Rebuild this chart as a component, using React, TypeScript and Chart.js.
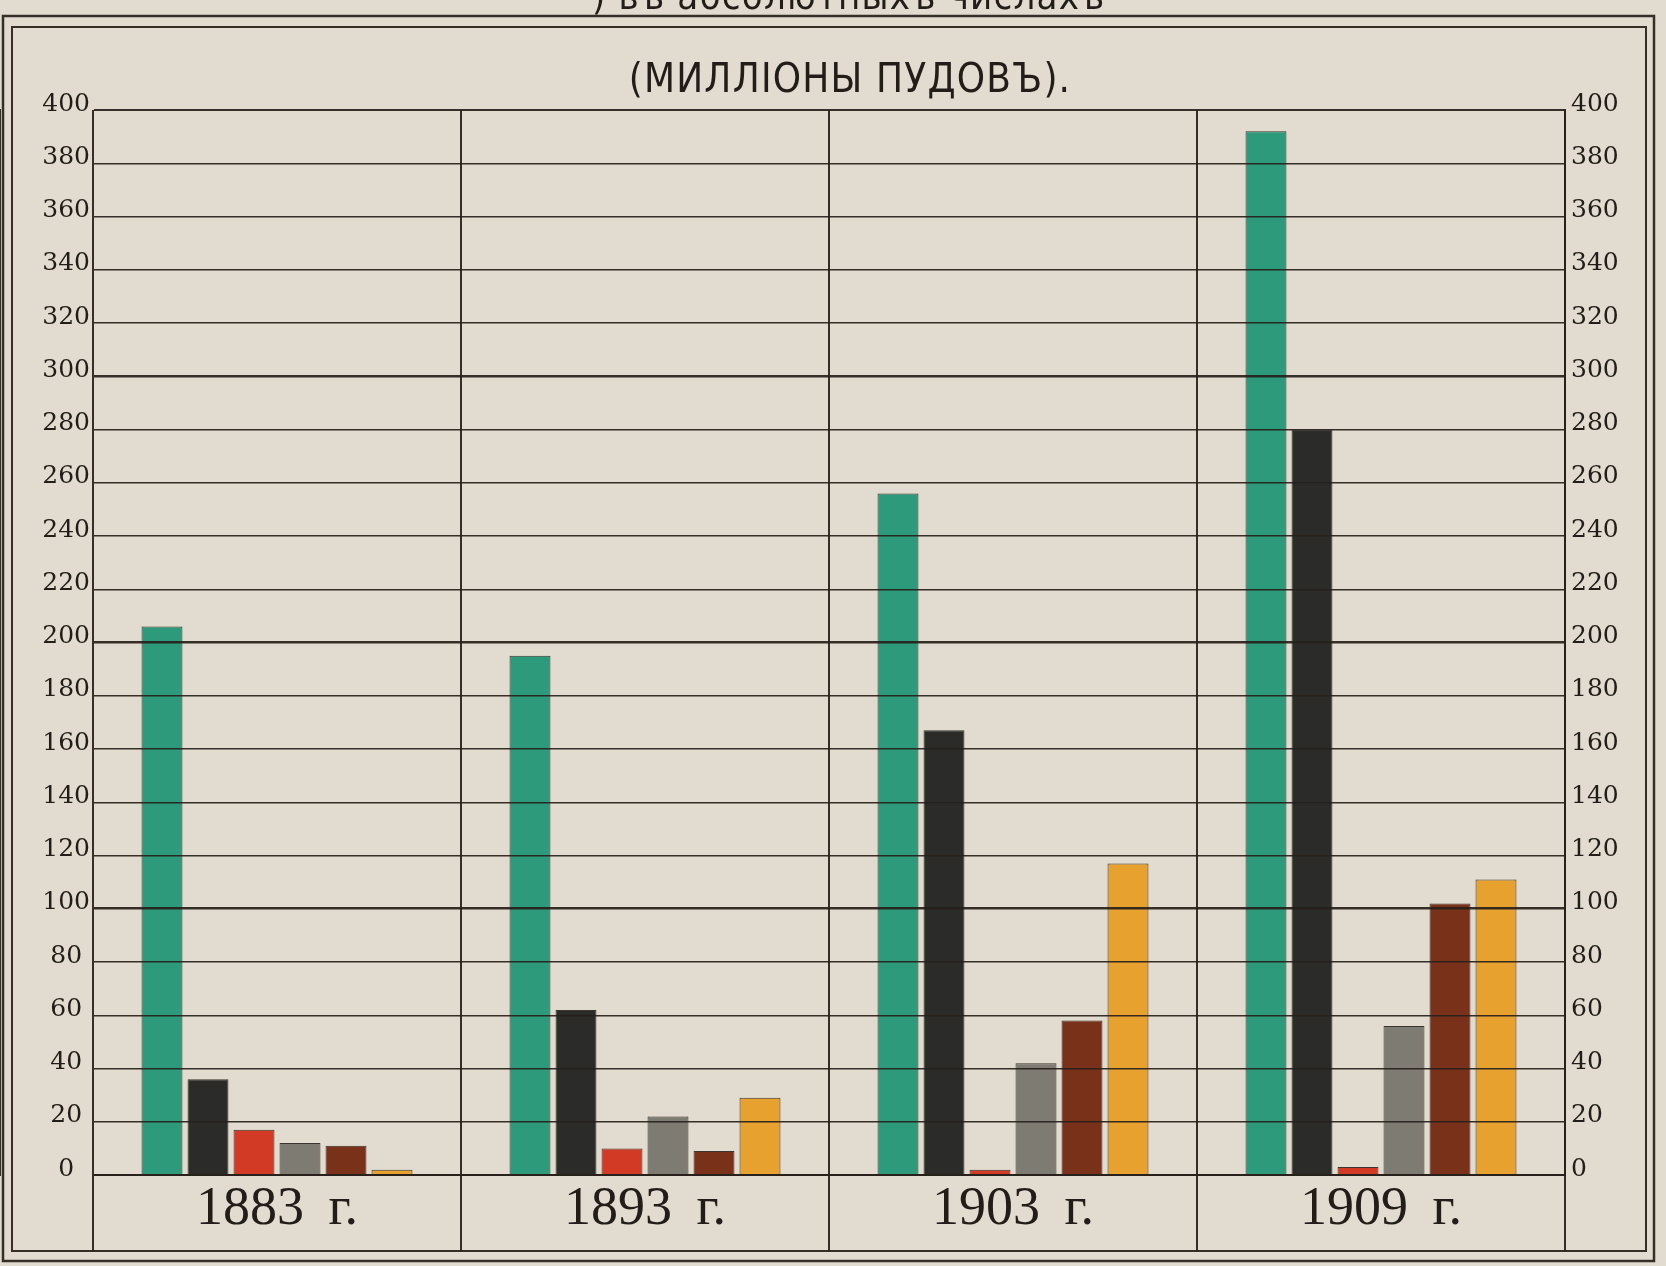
import React, { useEffect, useRef } from "react";
import { Chart, registerables } from "chart.js";

Chart.register(...registerables);

// ---- data ----
const years: string[] = ["1883 \u2009г.", "1893 \u2009г.", "1903 \u2009г.", "1909 \u2009г."];
const seriesGreen: number[] = [206, 195, 256, 392];
const seriesBlack: number[] = [36, 62, 167, 280];
const seriesRed: number[] = [17, 10, 2, 3];
const seriesGray: number[] = [12, 22, 42, 56];
const seriesBrown: number[] = [11, 9, 58, 102];
const seriesOrange: number[] = [2, 29, 117, 111];
const yTicksMin = 0;
const yTicksMax = 400;
const yTickStep = 20;
const heavyGridValues: number[] = [100, 200, 300];
const titleText = "(МИЛЛІОНЫ ПУДОВЪ).";
const topCutText = ") въ абсолютныхъ числахъ";

// ---- styles ----
const W = 1666;
const H = 1266;
const PAPER = "#e1dccf";
const INK = "rgba(38,32,26,0.92)";
const TEXT = "#221d18";
const PLOT_LEFT = 93;
const PLOT_RIGHT = 1565;
const PLOT_TOP = 110;
const PLOT_BOTTOM = 1175;
const ROW_BOTTOM = 1251;

const framePlugin = {
  id: "paperFrame",
  beforeDraw(chart: any) {
    const ctx = chart.ctx;
    ctx.save();
    ctx.fillStyle = PAPER;
    ctx.fillRect(0, 0, W, H);
    ctx.restore();
  },
  afterDraw(chart: any) {
    const ctx = chart.ctx;
    ctx.save();
    ctx.strokeStyle = INK;
    // inner frame
    ctx.lineWidth = 2;
    ctx.strokeRect(12, 27, 1646 - 12, ROW_BOTTOM - 27);
    // outer frame
    ctx.lineWidth = 2.5;
    ctx.strokeRect(3, 16, 1654 - 3, 1261 - 16);
    // title
    ctx.fillStyle = TEXT;
    ctx.textBaseline = "alphabetic";
    ctx.textAlign = "center";
    ctx.font = '40px "Liberation Sans Narrow", "DejaVu Sans Condensed", sans-serif';
    try { (ctx as any).letterSpacing = "1.2px"; } catch (e) {}
    ctx.fillText(titleText, 850, 92);
    // top cut-off caption
    ctx.textAlign = "left";
    ctx.font = '38px "Liberation Sans Narrow", "DejaVu Sans Condensed", sans-serif';
    try { (ctx as any).letterSpacing = "1.2px"; } catch (e) {}
    ctx.fillText(topCutText, 592, 9);
    try { (ctx as any).letterSpacing = "0px"; } catch (e) {}
    ctx.restore();
  },
};

export default function App() {
  const canvasRef = useRef<HTMLCanvasElement | null>(null);

  useEffect(() => {
    const canvas = canvasRef.current;
    if (!canvas) return;
    const mk = (label: string, data: number[], color: string) => ({
      label,
      data,
      backgroundColor: color,
      borderColor: "rgba(40,34,28,0.9)",
      borderWidth: 1,
      barPercentage: 0.89,
      categoryPercentage: 0.75,
    });
    const tickFont = { family: '"DejaVu Serif", "Liberation Serif", serif', size: 25 };
    const chart = new Chart(canvas, {
      type: "bar",
      data: {
        labels: years,
        datasets: [
          mk("зелёный", seriesGreen, "#2e9a7c"),
          mk("чёрный", seriesBlack, "#2b2b29"),
          mk("красный", seriesRed, "#d33a26"),
          mk("серый", seriesGray, "#7e7b73"),
          mk("коричневый", seriesBrown, "#7a311a"),
          mk("оранжевый", seriesOrange, "#e6a12f"),
        ],
      },
      options: {
        animation: false,
        responsive: false,
        maintainAspectRatio: false,
        devicePixelRatio: 1,
        layout: { padding: { top: PLOT_TOP, left: 0, right: 0, bottom: 0 } },
        plugins: {
          legend: { display: false },
          tooltip: { enabled: false },
          title: { display: false },
        },
        scales: {
          x: {
            grid: {
              offset: true,
              color: INK,
              lineWidth: 2,
              drawTicks: true,
              tickLength: ROW_BOTTOM - PLOT_BOTTOM,
              tickColor: INK,
              tickWidth: 2,
            },
            border: { display: true, color: INK, width: 2 },
            ticks: {
              color: TEXT,
              font: { family: '"Liberation Serif", "DejaVu Serif", serif', size: 54 },
              padding: -(ROW_BOTTOM - PLOT_BOTTOM) + 2,
              maxRotation: 0,
              autoSkip: false,
            },
            afterFit: (s: any) => {
              s.height = H - PLOT_BOTTOM;
            },
          },
          y: {
            position: "left",
            min: yTicksMin,
            max: yTicksMax,
            ticks: {
              stepSize: yTickStep,
              color: TEXT,
              font: tickFont,
              padding: 3,
              labelOffset: -6,
              crossAlign: "center",
            },
            grid: {
              color: INK,
              drawTicks: false,
              z: 1,
              lineWidth: (c: any) => {
                const v = c.tick ? c.tick.value : 0;
                if (heavyGridValues.includes(v)) return 2.6;
                if (v === yTicksMax || v === yTicksMin) return 2;
                return 1.5;
              },
            },
            border: { display: true, color: INK, width: 2 },
            afterFit: (s: any) => {
              s.width = PLOT_LEFT;
            },
          },
          y1: {
            position: "right",
            min: yTicksMin,
            max: yTicksMax,
            ticks: {
              stepSize: yTickStep,
              color: TEXT,
              font: tickFont,
              padding: 6,
              labelOffset: -6,
            },
            grid: { display: false, drawTicks: false },
            border: { display: true, color: INK, width: 2 },
            afterFit: (s: any) => {
              s.width = W - PLOT_RIGHT;
            },
          },
        },
      } as any,
      plugins: [framePlugin],
    });
    return () => {
      chart.destroy();
    };
  }, []);

  return (
    <div
      style={{
        position: "fixed",
        left: 0,
        top: 0,
        width: W,
        height: H,
        background: PAPER,
      }}
    >
      <canvas ref={canvasRef} width={W} height={H} style={{ width: W, height: H, display: "block" }} />
    </div>
  );
}
